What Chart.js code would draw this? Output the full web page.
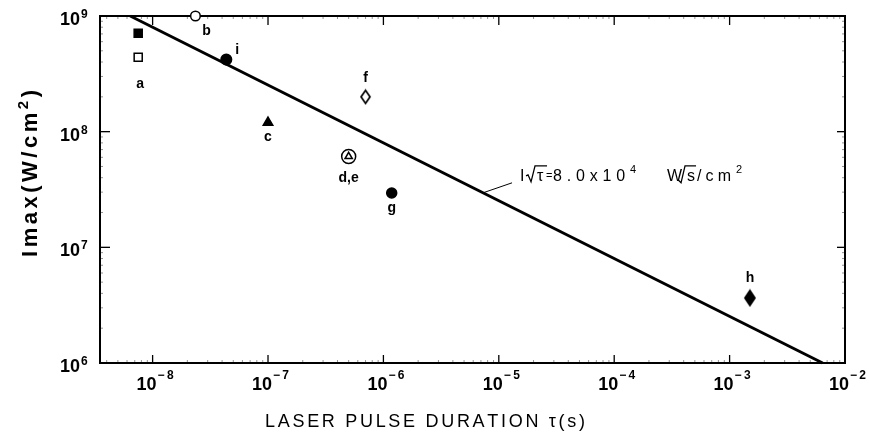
<!DOCTYPE html>
<html><head><meta charset="utf-8">
<script src="https://cdn.jsdelivr.net/npm/chart.js@4.4.1/dist/chart.umd.min.js"></script>
<style>html,body{margin:0;padding:0;background:#fff}canvas{display:block}</style>
</head><body>
<canvas id="c" width="869" height="434"></canvas>
<script>
// ---- data ----
const xTickValues = [1e-8, 1e-7, 1e-6, 1e-5, 1e-4, 1e-3, 1e-2];
const xTickExponents = ['−8', '−7', '−6', '−5', '−4', '−3', '−2'];
const yTickValues = [1e6, 1e7, 1e8, 1e9];
const yTickExponents = ['6', '7', '8', '9'];
const pointNames = ['a (filled)', 'a (open)', 'b', 'i', 'c', 'd', 'e', 'f', 'g', 'h'];
const pulseDuration = [7.5e-9, 7.5e-9, 2.35e-8, 4.35e-8, 1.0e-7, 5.0e-7, 5.0e-7, 7.0e-7, 1.18e-6, 1.5e-3];
const peakIntensity = [7.1e8, 4.4e8, 1.0e9, 4.2e8, 1.2e8, 6.1e7, 6.1e7, 2.0e8, 2.95e7, 3.65e6];
const groupLabels = ['a', 'b', 'i', 'c', 'd,e', 'f', 'g', 'h'];
const fitLineTau = [6.4e-9, 6.4e-3];
const fitLineIntensity = [1e9, 1e6];
const annotationTau = [7.3e-6];
const annotationIntensity = [2.96e7];
const xRange = [3.5e-9, 1e-2];
const yRange = [1e6, 1e9];

// ---- styling ----
function diamond(w, h, filled) {
  const c = document.createElement('canvas');
  c.width = w + 4; c.height = h + 4;
  const g = c.getContext('2d');
  const cx = c.width / 2, cy = c.height / 2;
  g.beginPath();
  g.moveTo(cx, cy - h / 2); g.lineTo(cx + w / 2, cy); g.lineTo(cx, cy + h / 2); g.lineTo(cx - w / 2, cy); g.closePath();
  g.fillStyle = filled ? '#000' : '#fff'; g.fill();
  g.strokeStyle = '#000'; g.lineWidth = 1.7; g.stroke();
  return c;
}
const markerStyles = [
  { style: 'rect', r: 5.7, fill: '#000' },
  { style: 'rect', r: 5.7, fill: '#fff' },
  { style: 'circle', r: 4.8, fill: '#fff' },
  { style: 'circle', r: 5.3, fill: '#000' },
  { style: 'triangle', r: 5.5, fill: '#000' },
  { style: 'triangle', r: 4.2, fill: 'rgba(0,0,0,0)' },
  { style: 'circle', r: 7, fill: '#fff' },
  { style: diamond(9, 13, false), r: 6, fill: '#fff' },
  { style: 'circle', r: 5, fill: '#000' },
  { style: diamond(10, 15, true), r: 7, fill: '#000' }
];
const labelAnchor = [1, 2, 3, 4, 6, 7, 8, 9];
const labelOffset = [[2, 27], [11, 15], [11, -9], [0, 15], [0, 22], [0, -19], [0, 15], [0, -20]];

const datasets = pointNames.map((n, i) => ({
  label: n,
  data: [{ x: pulseDuration[i], y: peakIntensity[i] }],
  pointStyle: markerStyles[i].style,
  pointRadius: markerStyles[i].r,
  pointHoverRadius: markerStyles[i].r,
  backgroundColor: markerStyles[i].fill,
  borderColor: '#000',
  borderWidth: 1.5,
  clip: false
}));
datasets.push({
  label: 'I√τ = 8.0x10⁴ W√s/cm²',
  data: fitLineTau.map((t, i) => ({ x: t, y: fitLineIntensity[i] })),
  showLine: true, pointRadius: 0, borderColor: '#000', borderWidth: 3, clip: false
});

// draw chars with uniform extra spacing so that the run has a target width
function drawRun(ctx, parts, x, y, target) {
  const chars = [];
  parts.forEach(p => { for (const ch of p.t) chars.push({ ch, font: p.font, dy: p.dy || 0 }); });
  let nat = 0;
  chars.forEach(c => { ctx.font = c.font; c.w = ctx.measureText(c.ch).width; nat += c.w; });
  const extra = target && chars.length > 1 ? (target - nat) / (chars.length - 1) : 0;
  let cx = x;
  chars.forEach(c => { ctx.font = c.font; ctx.fillText(c.ch, cx, y + c.dy); cx += c.w + extra; });
}

const FAM = '"Liberation Sans", Arial, sans-serif';
const decor = {
  id: 'decor',
  beforeDatasetsDraw(chart) {
    const { ctx, chartArea: a, scales: { x, y } } = chart;
    ctx.save();
    ctx.strokeStyle = '#000';
    const L = (x1, y1, x2, y2) => { ctx.beginPath(); ctx.moveTo(x1, y1); ctx.lineTo(x2, y2); ctx.stroke(); };
    ctx.lineWidth = 1.3;
    xTickValues.forEach(v => { const p = x.getPixelForValue(v); L(p, a.bottom, p, a.bottom - 8); L(p, a.top, p, a.top + 9); });
    yTickValues.forEach(v => { const p = y.getPixelForValue(v); L(a.left, p, a.left + 10, p); L(a.right, p, a.right - 8, p); });
    ctx.lineWidth = 0.8; ctx.strokeStyle = '#777';
    for (let e = -9; e <= -3; e++) for (let m = 2; m <= 9; m++) {
      const v = m * Math.pow(10, e);
      if (v < xRange[0] || v > xRange[1]) continue;
      const p = x.getPixelForValue(v); L(p, a.bottom, p, a.bottom - 3); L(p, a.top, p, a.top + 3);
    }
    for (let e = 6; e <= 8; e++) for (let m = 2; m <= 9; m++) {
      const p = y.getPixelForValue(m * Math.pow(10, e)); L(a.left, p, a.left + 3, p); L(a.right, p, a.right - 3, p);
    }
    ctx.strokeStyle = '#000'; ctx.lineWidth = 2;
    ctx.strokeRect(a.left, a.top, a.right - a.left, a.bottom - a.top);
    // tick labels (positions from the library's scales)
    ctx.fillStyle = '#000'; ctx.textBaseline = 'alphabetic';
    const big = 'bold 18px ' + FAM, sup = 'bold 12px ' + FAM;
    xTickValues.forEach((v, i) => {
      const p = x.getPixelForValue(v);
      ctx.textAlign = 'left';
      ctx.font = big; ctx.fillText('10', p - 16, a.bottom + 27);
      drawRun(ctx, [{ t: xTickExponents[i], font: sup }], p + 5, a.bottom + 16, 16);
    });
    yTickValues.forEach((v, i) => {
      const p = y.getPixelForValue(v);
      ctx.textAlign = 'right'; ctx.font = big; ctx.fillText('10', 80, p + 9);
      ctx.textAlign = 'left'; ctx.font = sup; ctx.fillText(yTickExponents[i], 81, p + 2);
    });
    ctx.restore();
  },
  afterDraw(chart) {
    const { ctx, scales: { x, y } } = chart;
    ctx.save();
    ctx.fillStyle = '#000'; ctx.strokeStyle = '#000';
    // point labels
    ctx.font = 'bold 14px ' + FAM;
    ctx.textAlign = 'center'; ctx.textBaseline = 'middle';
    groupLabels.forEach((t, k) => {
      const el = chart.getDatasetMeta(labelAnchor[k]).data[0];
      ctx.fillText(t, el.x + labelOffset[k][0], el.y + labelOffset[k][1]);
    });
    // annotation
    const ax = x.getPixelForValue(annotationTau[0]), ay = y.getPixelForValue(annotationIntensity[0]);
    ctx.lineWidth = 1;
    ctx.beginPath(); ctx.moveTo(ax, ay); ctx.lineTo(ax + 29, ay - 10); ctx.stroke();
    ctx.textAlign = 'left'; ctx.textBaseline = 'alphabetic';
    const x0 = ax + 37, b = ay - 12;
    const f = '16px ' + FAM, fs = '11px ' + FAM;
    ctx.font = f; ctx.fillText('I', x0, b);
    ctx.lineWidth = 1.3;
    ctx.beginPath(); ctx.moveTo(x0 + 6, b - 5); ctx.lineTo(x0 + 8, b - 6); ctx.lineTo(x0 + 11, b + 1); ctx.lineTo(x0 + 15, b - 15); ctx.lineTo(x0 + 27, b - 15); ctx.stroke();
    ctx.font = f; ctx.fillText('τ', x0 + 17, b);
    ctx.font = '11px ' + FAM; ctx.fillText('=', x0 + 26, b - 2);
    drawRun(ctx, [{ t: '8.0x10', font: f }], x0 + 33, b, 72);
    ctx.font = fs; ctx.fillText('4', x0 + 110, b - 8);
    const x1 = x0 + 147;
    ctx.font = f; ctx.fillText('W', x1, b);
    ctx.beginPath(); ctx.moveTo(x1 + 11, b - 1); ctx.lineTo(x1 + 14, b + 2); ctx.lineTo(x1 + 18, b - 15); ctx.lineTo(x1 + 29, b - 15); ctx.stroke();
    ctx.font = f; ctx.fillText('s', x1 + 20, b);
    drawRun(ctx, [{ t: '/cm', font: f }], x1 + 30, b, 34);
    ctx.font = fs; ctx.fillText('2', x1 + 69, b - 8);
    // x title
    drawRun(ctx, [{ t: 'LASER PULSE DURATION τ(s)', font: '18px ' + FAM }], 265, 427, 320);
    // y title (rotated)
    ctx.translate(37, 257); ctx.rotate(-Math.PI / 2);
    const yf = 'bold 22px ' + FAM;
    drawRun(ctx, [{ t: 'Imax(W/cm', font: yf }, { t: '2', font: 'bold 15px ' + FAM, dy: -9 }, { t: ')', font: yf }], 0, 0, 167);
    ctx.restore();
  }
};

new Chart(document.getElementById('c'), {
  type: 'scatter',
  data: { datasets },
  plugins: [decor],
  options: {
    responsive: false, animation: false, devicePixelRatio: 1,
    layout: { padding: { top: 16, right: 24, left: 0, bottom: 0 } },
    plugins: { legend: { display: false }, tooltip: { enabled: false } },
    scales: {
      x: {
        type: 'logarithmic', min: xRange[0], max: xRange[1],
        grid: { display: false }, border: { display: false },
        ticks: { display: false },
        afterBuildTicks: s => { s.ticks = xTickValues.map(v => ({ value: v })); },
        afterFit: s => { s.height = 71; }
      },
      y: {
        type: 'logarithmic', min: yRange[0], max: yRange[1],
        grid: { display: false }, border: { display: false },
        ticks: { display: false },
        afterBuildTicks: s => { s.ticks = yTickValues.map(v => ({ value: v })); },
        afterFit: s => { s.width = 100; }
      }
    }
  }
});
</script>
</body></html>
